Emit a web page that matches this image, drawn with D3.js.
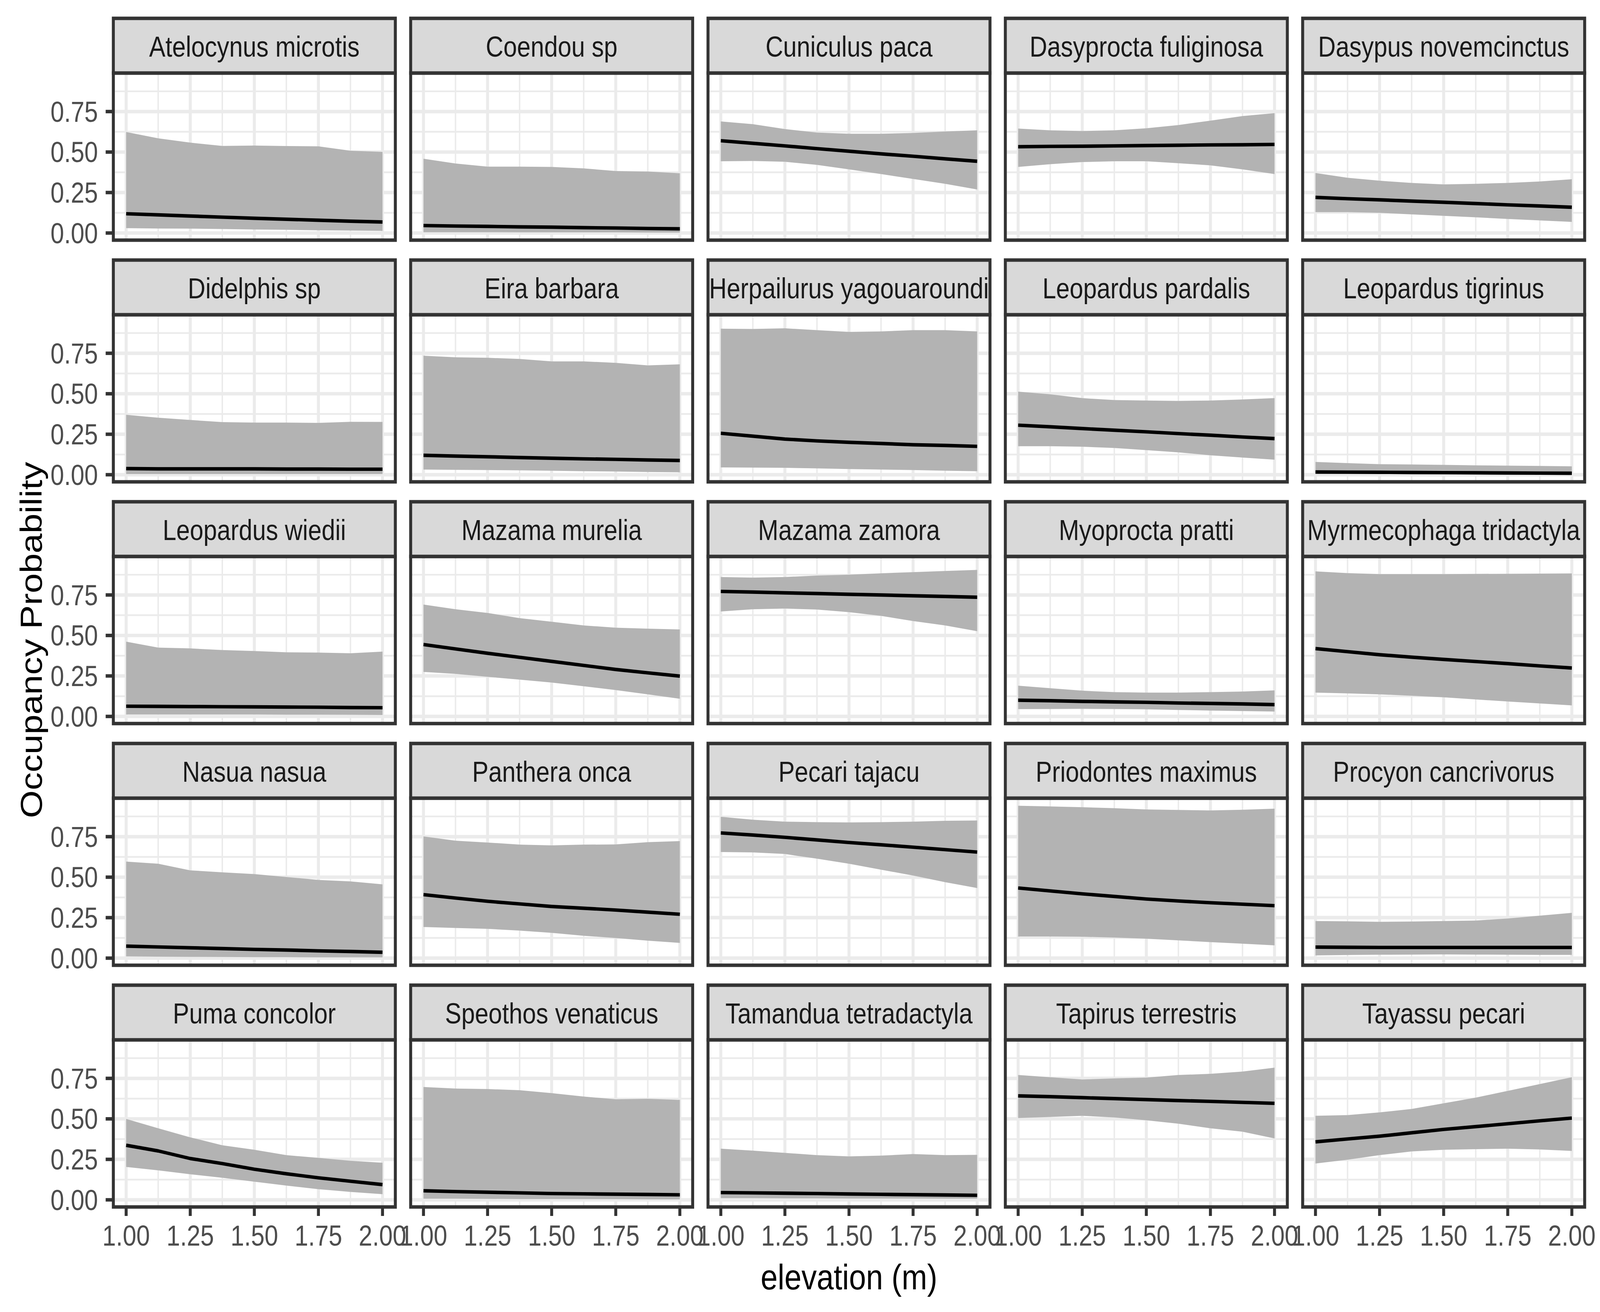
<!DOCTYPE html>
<html>
<head>
<meta charset="utf-8">
<script src="https://cdn.jsdelivr.net/npm/d3@7"></script>
<style>
  html, body { margin: 0; padding: 0; background: #ffffff; overflow: hidden; }
  svg { display: block; }
</style>
</head>
<body>
<script>
// ---------------- DATA ----------------
const xValues = [1, 1.125, 1.25, 1.375, 1.5, 1.625, 1.75, 1.875, 2];

const species = [
  "Atelocynus microtis", "Coendou sp", "Cuniculus paca", "Dasyprocta fuliginosa", "Dasypus novemcinctus",
  "Didelphis sp", "Eira barbara", "Herpailurus yagouaroundi", "Leopardus pardalis", "Leopardus tigrinus",
  "Leopardus wiedii", "Mazama murelia", "Mazama zamora", "Myoprocta pratti", "Myrmecophaga tridactyla",
  "Nasua nasua", "Panthera onca", "Pecari tajacu", "Priodontes maximus", "Procyon cancrivorus",
  "Puma concolor", "Speothos venaticus", "Tamandua tetradactyla", "Tapirus terrestris", "Tayassu pecari"
];

const meanValues = [
  [0.119, 0.112, 0.105, 0.098, 0.091, 0.085, 0.079, 0.073, 0.068],
  [0.046, 0.043, 0.041, 0.038, 0.036, 0.033, 0.031, 0.028, 0.026],
  [0.570, 0.554, 0.538, 0.521, 0.505, 0.489, 0.474, 0.458, 0.443],
  [0.533, 0.535, 0.536, 0.538, 0.540, 0.542, 0.544, 0.545, 0.547],
  [0.220, 0.212, 0.205, 0.197, 0.190, 0.182, 0.174, 0.167, 0.159],
  [0.038, 0.036, 0.036, 0.036, 0.036, 0.035, 0.035, 0.034, 0.034],
  [0.120, 0.115, 0.111, 0.106, 0.102, 0.098, 0.095, 0.091, 0.088],
  [0.256, 0.238, 0.220, 0.209, 0.200, 0.193, 0.185, 0.181, 0.175],
  [0.306, 0.296, 0.285, 0.275, 0.265, 0.254, 0.244, 0.233, 0.223],
  [0.017, 0.016, 0.015, 0.014, 0.013, 0.012, 0.011, 0.010, 0.009],
  [0.063, 0.062, 0.061, 0.060, 0.059, 0.058, 0.057, 0.055, 0.054],
  [0.444, 0.417, 0.390, 0.365, 0.340, 0.315, 0.290, 0.269, 0.249],
  [0.772, 0.768, 0.763, 0.759, 0.754, 0.750, 0.745, 0.741, 0.736],
  [0.100, 0.097, 0.093, 0.090, 0.087, 0.083, 0.080, 0.077, 0.073],
  [0.419, 0.400, 0.381, 0.366, 0.352, 0.339, 0.326, 0.312, 0.299],
  [0.074, 0.069, 0.064, 0.059, 0.054, 0.050, 0.045, 0.041, 0.036],
  [0.392, 0.371, 0.351, 0.335, 0.319, 0.308, 0.297, 0.284, 0.271],
  [0.773, 0.760, 0.746, 0.730, 0.714, 0.700, 0.685, 0.670, 0.655],
  [0.433, 0.415, 0.397, 0.381, 0.365, 0.353, 0.342, 0.333, 0.324],
  [0.068, 0.067, 0.066, 0.066, 0.066, 0.066, 0.066, 0.066, 0.066],
  [0.337, 0.302, 0.255, 0.224, 0.189, 0.161, 0.136, 0.115, 0.094],
  [0.056, 0.051, 0.047, 0.043, 0.039, 0.037, 0.035, 0.033, 0.031],
  [0.045, 0.043, 0.041, 0.039, 0.036, 0.034, 0.032, 0.030, 0.028],
  [0.642, 0.637, 0.631, 0.625, 0.619, 0.613, 0.608, 0.602, 0.596],
  [0.358, 0.376, 0.393, 0.414, 0.435, 0.452, 0.470, 0.488, 0.505]
];

const lowerValues = [
  [0.030, 0.028, 0.027, 0.025, 0.022, 0.020, 0.017, 0.015, 0.013],
  [0.005, 0.005, 0.005, 0.004, 0.004, 0.004, 0.004, 0.003, 0.003],
  [0.443, 0.445, 0.440, 0.421, 0.393, 0.364, 0.334, 0.304, 0.269],
  [0.408, 0.425, 0.438, 0.443, 0.443, 0.431, 0.418, 0.393, 0.364],
  [0.129, 0.129, 0.125, 0.115, 0.106, 0.097, 0.087, 0.078, 0.069],
  [0.004, 0.004, 0.004, 0.004, 0.004, 0.004, 0.004, 0.004, 0.004],
  [0.032, 0.030, 0.029, 0.027, 0.025, 0.022, 0.020, 0.017, 0.015],
  [0.045, 0.044, 0.043, 0.039, 0.035, 0.032, 0.029, 0.025, 0.022],
  [0.176, 0.176, 0.173, 0.165, 0.152, 0.138, 0.120, 0.106, 0.093],
  [0.004, 0.004, 0.004, 0.004, 0.004, 0.004, 0.004, 0.004, 0.004],
  [0.012, 0.012, 0.012, 0.012, 0.012, 0.011, 0.011, 0.010, 0.009],
  [0.275, 0.263, 0.245, 0.227, 0.209, 0.186, 0.163, 0.136, 0.109],
  [0.648, 0.662, 0.666, 0.660, 0.644, 0.621, 0.589, 0.562, 0.526],
  [0.045, 0.046, 0.047, 0.046, 0.044, 0.040, 0.036, 0.033, 0.030],
  [0.147, 0.142, 0.136, 0.128, 0.118, 0.105, 0.092, 0.080, 0.068],
  [0.011, 0.009, 0.008, 0.007, 0.006, 0.006, 0.005, 0.005, 0.005],
  [0.192, 0.186, 0.181, 0.170, 0.156, 0.138, 0.124, 0.108, 0.094],
  [0.655, 0.653, 0.643, 0.614, 0.583, 0.546, 0.510, 0.469, 0.433],
  [0.133, 0.133, 0.132, 0.127, 0.120, 0.110, 0.099, 0.089, 0.079],
  [0.017, 0.019, 0.021, 0.022, 0.023, 0.022, 0.021, 0.020, 0.020],
  [0.203, 0.182, 0.158, 0.136, 0.112, 0.088, 0.066, 0.049, 0.035],
  [0.007, 0.007, 0.006, 0.005, 0.005, 0.004, 0.004, 0.003, 0.003],
  [0.010, 0.010, 0.009, 0.009, 0.008, 0.008, 0.008, 0.007, 0.007],
  [0.505, 0.512, 0.519, 0.509, 0.491, 0.470, 0.442, 0.421, 0.379],
  [0.224, 0.248, 0.276, 0.299, 0.309, 0.313, 0.316, 0.311, 0.302]
];

const upperValues = [
  [0.624, 0.585, 0.558, 0.538, 0.540, 0.537, 0.535, 0.508, 0.501],
  [0.459, 0.429, 0.410, 0.410, 0.408, 0.399, 0.383, 0.380, 0.369],
  [0.689, 0.672, 0.642, 0.620, 0.613, 0.613, 0.618, 0.627, 0.634],
  [0.645, 0.634, 0.630, 0.634, 0.647, 0.667, 0.694, 0.722, 0.740],
  [0.371, 0.341, 0.323, 0.309, 0.300, 0.304, 0.309, 0.318, 0.332],
  [0.370, 0.352, 0.338, 0.325, 0.322, 0.322, 0.320, 0.327, 0.326],
  [0.735, 0.725, 0.722, 0.715, 0.700, 0.700, 0.691, 0.675, 0.682],
  [0.902, 0.900, 0.904, 0.893, 0.882, 0.885, 0.893, 0.893, 0.885],
  [0.513, 0.497, 0.473, 0.461, 0.458, 0.456, 0.458, 0.465, 0.473],
  [0.079, 0.072, 0.065, 0.063, 0.061, 0.058, 0.056, 0.054, 0.052],
  [0.462, 0.425, 0.420, 0.410, 0.404, 0.396, 0.394, 0.390, 0.400],
  [0.691, 0.662, 0.639, 0.607, 0.585, 0.562, 0.548, 0.542, 0.537],
  [0.861, 0.857, 0.861, 0.870, 0.875, 0.884, 0.891, 0.898, 0.905],
  [0.190, 0.174, 0.159, 0.150, 0.147, 0.147, 0.150, 0.154, 0.161],
  [0.896, 0.885, 0.879, 0.879, 0.879, 0.880, 0.881, 0.882, 0.883],
  [0.596, 0.583, 0.542, 0.530, 0.519, 0.501, 0.483, 0.474, 0.456],
  [0.752, 0.725, 0.714, 0.701, 0.696, 0.701, 0.702, 0.716, 0.723],
  [0.873, 0.855, 0.843, 0.840, 0.838, 0.840, 0.843, 0.848, 0.850],
  [0.941, 0.937, 0.932, 0.926, 0.918, 0.915, 0.912, 0.916, 0.923],
  [0.229, 0.227, 0.224, 0.226, 0.229, 0.232, 0.245, 0.262, 0.280],
  [0.500, 0.442, 0.386, 0.337, 0.309, 0.276, 0.259, 0.241, 0.229],
  [0.697, 0.687, 0.684, 0.677, 0.659, 0.638, 0.621, 0.624, 0.617],
  [0.316, 0.304, 0.290, 0.276, 0.268, 0.273, 0.283, 0.276, 0.278],
  [0.771, 0.757, 0.743, 0.750, 0.755, 0.771, 0.778, 0.792, 0.816],
  [0.519, 0.523, 0.540, 0.561, 0.596, 0.631, 0.673, 0.715, 0.757]
];

const xTickValues = [1, 1.25, 1.5, 1.75, 2];
const xTickLabels = ["1.00", "1.25", "1.50", "1.75", "2.00"];
const xMinorValues = [1.125, 1.375, 1.625, 1.875];
const yTickValues = [0, 0.25, 0.5, 0.75];
const yTickLabels = ["0.00", "0.25", "0.50", "0.75"];
const yMinorValues = [0.125, 0.375, 0.625, 0.875];

const xTitle = "elevation (m)";
const yTitle = "Occupancy Probability";

// ---------------- LAYOUT ----------------
const W = 4800, H = 3360;
const nCols = 5;
const panelLeft0 = 340, panelW = 846, colPitch = 892;
const stripTop0 = 47, stripH = 140, panelH = 428, rowPitch = 619;
const lw = 8.9;            // base line width (0.5 mm at 600 dpi)
const fontFamily = "'Liberation Sans', Arial, Helvetica, sans-serif";
const smallFont = 73.3, bigFont = 91.7;
const nRows = Math.ceil(species.length / nCols);

const vw = window.innerWidth || W;
const vh = window.innerHeight || H;

const svg = d3.select("body").append("svg")
  .attr("width", vw).attr("height", vh)
  .attr("viewBox", `0 0 ${W} ${H}`)
  .attr("preserveAspectRatio", "none");

svg.append("rect").attr("width", W).attr("height", H).attr("fill", "#ffffff");

const x = d3.scaleLinear().domain([0.95, 2.05]).range([0, panelW]);
const y = d3.scaleLinear().domain([-0.044, 0.988]).range([panelH, 0]);

const area = d3.area()
  .x((d) => x(d[0]))
  .y0((d) => y(d[1]))
  .y1((d) => y(d[2]));
const line = d3.line()
  .x((d) => x(d[0]))
  .y((d) => y(d[1]));

species.forEach((name, i) => {
  const col = i % nCols, row = Math.floor(i / nCols);
  const left = panelLeft0 + col * colPitch;
  const stripTop = stripTop0 + row * rowPitch;
  const panelTop = stripTop + stripH;

  const g = svg.append("g").attr("transform", `translate(${left},${panelTop})`);

  g.append("rect").attr("width", panelW).attr("height", panelH).attr("fill", "#ffffff");

  // minor gridlines
  g.selectAll(".gxm").data(xMinorValues).enter().append("line")
    .attr("x1", (d) => x(d)).attr("x2", (d) => x(d))
    .attr("y1", 0).attr("y2", panelH)
    .attr("stroke", "#EBEBEB").attr("stroke-width", lw / 2);
  g.selectAll(".gym").data(yMinorValues).enter().append("line")
    .attr("x1", 0).attr("x2", panelW)
    .attr("y1", (d) => y(d)).attr("y2", (d) => y(d))
    .attr("stroke", "#EBEBEB").attr("stroke-width", lw / 2);
  // major gridlines
  g.selectAll(".gx").data(xTickValues).enter().append("line")
    .attr("x1", (d) => x(d)).attr("x2", (d) => x(d))
    .attr("y1", 0).attr("y2", panelH)
    .attr("stroke", "#EBEBEB").attr("stroke-width", lw);
  g.selectAll(".gy").data(yTickValues).enter().append("line")
    .attr("x1", 0).attr("x2", panelW)
    .attr("y1", (d) => y(d)).attr("y2", (d) => y(d))
    .attr("stroke", "#EBEBEB").attr("stroke-width", lw);

  const pts = xValues.map((xv, k) => [xv, lowerValues[i][k], upperValues[i][k]]);
  g.append("path").datum(pts).attr("d", area).attr("fill", "#B3B3B3");

  const mpts = xValues.map((xv, k) => [xv, meanValues[i][k]]);
  g.append("path").datum(mpts).attr("d", line)
    .attr("fill", "none").attr("stroke", "#000000")
    .attr("stroke-width", lw).attr("stroke-linejoin", "round").attr("stroke-linecap", "butt");

  // panel border
  g.append("rect").attr("width", panelW).attr("height", panelH)
    .attr("fill", "none").attr("stroke", "#333333").attr("stroke-width", lw);

  // strip
  svg.append("rect").attr("x", left).attr("y", stripTop)
    .attr("width", panelW).attr("height", stripH)
    .attr("fill", "#D9D9D9").attr("stroke", "#333333").attr("stroke-width", lw);
  svg.append("text").attr("x", left + panelW / 2).attr("y", stripTop + 98)
    .attr("text-anchor", "middle").attr("font-family", fontFamily)
    .attr("font-size", smallFont).attr("fill", "#1A1A1A").text(name);

  // y axis on first column
  if (col === 0) {
    yTickValues.forEach((v, k) => {
      svg.append("line")
        .attr("x1", left - 23).attr("x2", left)
        .attr("y1", panelTop + y(v)).attr("y2", panelTop + y(v))
        .attr("stroke", "#333333").attr("stroke-width", lw);
      svg.append("text")
        .attr("x", left - 46).attr("y", panelTop + y(v) + 26)
        .attr("text-anchor", "end").attr("font-family", fontFamily)
        .attr("font-size", smallFont).attr("fill", "#4D4D4D").text(yTickLabels[k]);
    });
  }
  // x axis on bottom row
  if (row === nRows - 1) {
    xTickValues.forEach((v, k) => {
      svg.append("line")
        .attr("x1", left + x(v)).attr("x2", left + x(v))
        .attr("y1", panelTop + panelH).attr("y2", panelTop + panelH + 23)
        .attr("stroke", "#333333").attr("stroke-width", lw);
      svg.append("text")
        .attr("x", left + x(v)).attr("y", panelTop + panelH + 99)
        .attr("text-anchor", "middle").attr("font-family", fontFamily)
        .attr("font-size", smallFont).attr("fill", "#4D4D4D").text(xTickLabels[k]);
    });
  }
});

// axis titles
const plotLeft = panelLeft0, plotRight = panelLeft0 + (nCols - 1) * colPitch + panelW;
svg.append("text")
  .attr("x", (plotLeft + plotRight) / 2).attr("y", 3302)
  .attr("text-anchor", "middle").attr("font-family", fontFamily)
  .attr("font-size", bigFont).attr("fill", "#000000").text(xTitle);

const yMid = (stripTop0 + stripH + stripTop0 + (nRows - 1) * rowPitch + stripH + panelH) / 2;
svg.append("text")
  .attr("transform", `translate(${92 + 33},${yMid}) rotate(-90)`)
  .attr("text-anchor", "middle").attr("font-family", fontFamily)
  .attr("font-size", bigFont).attr("fill", "#000000").text(yTitle);
</script>
</body>
</html>
